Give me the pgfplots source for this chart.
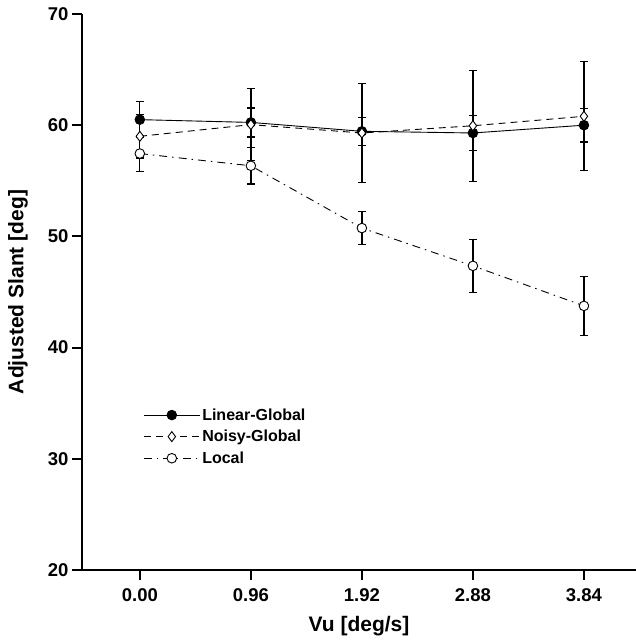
\documentclass[border=0pt]{standalone}
\usepackage{pgfplots}
\pgfplotsset{compat=1.18}
\usepackage{fontspec}
\setmainfont{Liberation Sans}

\pgfplotstableread{
x    y     e
0.00 60.50 1.60
0.96 60.25 1.30
1.92 59.45 1.25
2.88 59.30 1.57
3.84 60.00 1.50
}\lineartab
\pgfplotstableread{
x    y     e
0.00 59.00 1.95
0.96 60.05 3.25
1.92 59.30 4.45
2.88 59.95 5.00
3.84 60.80 4.90
}\noisytab
\pgfplotstableread{
x    y     e
0.00 57.45 1.60
0.96 56.35 1.65
1.92 50.75 1.50
2.88 47.35 2.40
3.84 43.75 2.65
}\localtab

\begin{document}
\begin{tikzpicture}[x=1pt,y=1pt]
    \begin{axis}[
        scale only axis,
        width=554pt, height=556pt,
        axis x line*=bottom, axis y line*=left,
        xmin=-0.5, xmax=4.29, ymin=20, ymax=70,
        xtick={0,0.96,1.92,2.88,3.84},
        xticklabels={0.00,0.96,1.92,2.88,3.84},
        ytick={20,30,40,50,60,70},
        yticklabels={20,30,40,50,60,70},
        tick align=outside,
        major tick length=10pt,
        axis line style={line width=2pt},
        every tick/.style={line width=2pt,black},
        tick label style={font=\fontsize{18.5}{21}\selectfont\bfseries},
        xticklabel style={yshift=-5pt},
        xlabel={Vu [deg/s]},
        ylabel={Adjusted Slant [deg]},
        label style={font=\fontsize{21}{24}\selectfont\bfseries},
        xlabel style={at={(axis description cs:0.5,-0.101)}, anchor=center},
        ylabel style={at={(axis description cs:-0.1155,0.5)}, anchor=center},
        legend style={at={(0.105,0.298)}, anchor=north west, draw=none, fill=none,
            font=\fontsize{16}{19}\selectfont\bfseries, row sep=4.5pt},
        legend cell align=left,
        legend image code/.code={\draw[mark repeat=2,mark phase=2,#1] plot coordinates {(0pt,0pt) (28pt,0pt) (56pt,0pt)};},
        error bars/y dir=both,
        error bars/y explicit,
        error bars/error bar style={line width=1.3pt,solid,black},
        error bars/error mark options={rotate=90,mark size=4pt,line width=1.3pt,solid,black},
        clip=false,
        ]
        \addplot[black, line width=0.9pt, mark=*, mark size=4.8pt, mark options={solid,fill=black}]
            table[x=x,y=y,y error=e] {\lineartab};
        \addplot[black, line width=0.9pt, dash pattern=on 7pt off 5pt, mark=diamond*, mark size=5pt,
            mark options={solid,fill=white,line width=0.9pt}]
            table[x=x,y=y,y error=e] {\noisytab};
        \addplot[black, line width=0.9pt, dash pattern=on 8pt off 5pt on 1.5pt off 5pt, mark=*, mark size=4.8pt,
            mark options={solid,fill=white,line width=0.9pt}]
            table[x=x,y=y,y error=e] {\localtab};
        \legend{Linear-Global, Noisy-Global, Local}
    \end{axis}
    \pgfresetboundingbox
    \path (-82,-71) rectangle (554,570);
\end{tikzpicture}
\end{document}
